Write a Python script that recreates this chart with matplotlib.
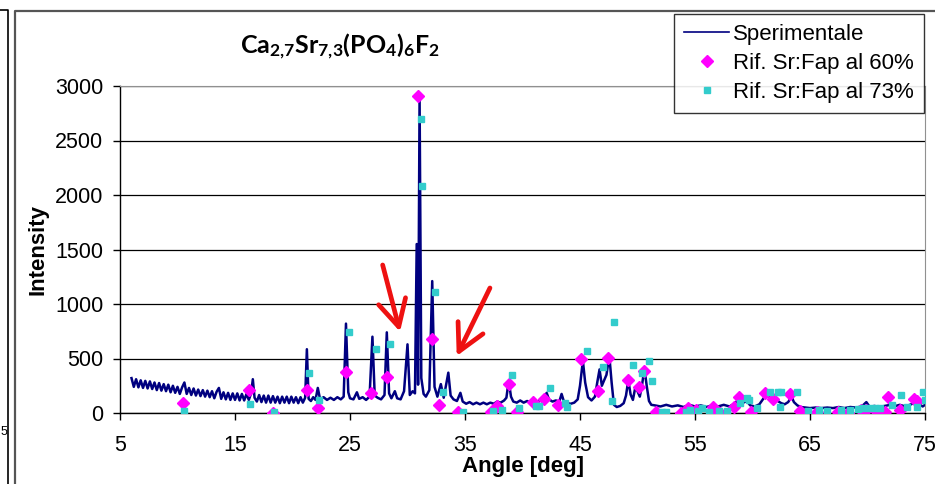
import matplotlib
matplotlib.use("Agg")
import matplotlib.pyplot as plt
from matplotlib.lines import Line2D

# XRD scan (2theta in deg, counts)
EXP_ANGLE = [
    6.0, 6.2, 6.4, 6.6, 6.8, 7.0, 7.2, 7.4, 7.6, 7.8,
    8.0, 8.2, 8.4, 8.6, 8.8, 9.0, 9.2, 9.4, 9.6, 9.8,
    10.0, 10.2, 10.4, 10.6, 10.8, 11.0, 11.2, 11.4, 11.6, 11.8,
    12.0, 12.2, 12.4, 12.6, 12.8, 13.0, 13.2, 13.4, 13.6, 13.8,
    14.0, 14.2, 14.4, 14.6, 14.8, 15.0, 15.2, 15.4, 15.6, 15.8,
    16.0, 16.2, 16.4, 16.55, 16.7, 16.9, 17.1, 17.3, 17.5, 17.7,
    17.9, 18.1, 18.3, 18.5, 18.7, 18.9, 19.1, 19.3, 19.5, 19.7,
    19.9, 20.1, 20.3, 20.5, 20.7, 20.9, 21.1, 21.25, 21.4, 21.6,
    21.8, 22.0, 22.2, 22.4, 22.7, 23.0, 23.3, 23.6, 23.9, 24.2,
    24.45, 24.65, 24.85, 25.0, 25.3, 25.6, 25.8, 26.1, 26.4, 26.7,
    26.95, 27.15, 27.4, 27.7, 28.0, 28.2, 28.4, 28.6, 28.9, 29.1,
    29.4, 29.7, 30.0, 30.2, 30.45, 30.65, 30.8, 30.92, 31.05, 31.2,
    31.4, 31.6, 31.9, 32.15, 32.35, 32.6, 32.9, 33.15, 33.55, 33.75,
    34.0, 34.3, 34.6, 34.8, 35.1, 35.4, 35.7, 36.0, 36.3, 36.6,
    36.9, 37.2, 37.5, 37.8, 38.1, 38.4, 38.6, 38.8, 39.0, 39.2,
    39.5, 39.8, 40.1, 40.4, 40.7, 41.0, 41.3, 41.6, 41.9, 42.1,
    42.3, 42.6, 42.9, 43.2, 43.4, 43.6, 43.9, 44.2, 44.5, 44.8,
    45.0, 45.25, 45.45, 45.7, 46.0, 46.3, 46.5, 46.7, 46.9, 47.1,
    47.3, 47.55, 47.75, 47.95, 48.2, 48.5, 48.8, 49.0, 49.2, 49.4,
    49.6, 49.8, 50.0, 50.2, 50.4, 50.6, 50.8, 51.0, 51.2, 51.5,
    52.0, 52.5, 53.0, 53.5, 54.0, 54.5, 55.0, 55.5, 56.0, 56.5,
    57.0, 57.5, 58.0, 58.5, 58.8, 59.1, 59.5, 59.8, 60.2, 60.6,
    61.0, 61.3, 61.6, 61.9, 62.2, 62.5, 62.8, 63.1, 63.4, 63.6,
    63.9, 64.2, 64.6, 65.0, 65.5, 66.0, 66.5, 67.0, 67.5, 68.0,
    68.5, 69.0, 69.5, 69.9, 70.2, 70.6, 71.0, 71.5, 72.0, 72.3,
    72.8, 73.3, 73.8, 74.2, 74.5, 74.8, 75.0,
]
EXP_COUNTS = [
    320, 240, 310, 235, 300, 230, 295, 225, 290, 220,
    280, 210, 275, 205, 265, 200, 260, 190, 250, 185,
    240, 175, 235, 280, 175, 230, 165, 225, 160, 215,
    155, 210, 150, 205, 145, 200, 135, 195, 230, 130,
    190, 125, 185, 120, 180, 120, 180, 115, 175, 115,
    175, 120, 180, 310, 140, 105, 165, 100, 160, 95,
    160, 95, 155, 95, 150, 90, 150, 95, 150, 90,
    150, 95, 145, 90, 145, 95, 140, 585, 130, 110,
    145, 120, 230, 125, 145, 120, 140, 120, 145, 125,
    150, 820, 190, 135, 125, 190, 130, 145, 120, 150,
    700, 160, 140, 125, 165, 740, 180, 135, 200, 135,
    125, 200, 630, 165, 200, 180, 1550, 260, 2910, 320,
    175, 150, 210, 1210, 240, 150, 265, 140, 370, 160,
    125, 110, 185, 105, 85, 100, 80, 95, 80, 95,
    80, 95, 85, 105, 95, 115, 140, 295, 150, 105,
    95, 115, 95, 110, 95, 115, 100, 125, 135, 185,
    125, 105, 115, 105, 175, 105, 90, 85, 95, 125,
    250, 480, 280, 145, 115, 150, 280, 400, 250, 300,
    350, 525, 280, 75, 55, 65, 90, 160, 300, 170,
    120, 230, 200, 150, 260, 410, 250, 110, 75, 70,
    60, 75, 60, 70, 55, 75, 60, 70, 55, 70,
    60, 75, 60, 90, 130, 90, 110, 70, 60, 80,
    140, 175, 130, 150, 110, 90, 80, 100, 150, 100,
    70, 55, 50, 45, 50, 45, 50, 45, 55, 45,
    55, 50, 60, 100, 55, 65, 55, 65, 75, 60,
    75, 60, 80, 105, 80, 60, 75,
]
assert len(EXP_ANGLE) == len(EXP_COUNTS)

# reference pattern Sr:Fap 60 %
REF60_ANGLE = [10.5, 16.2, 18.3, 21.3, 22.2, 24.65, 26.8, 28.2, 30.9, 32.15,
               32.7, 34.4, 37.3, 37.8, 38.8, 39.5, 40.9, 41.9, 43.1, 45.1,
               46.6, 47.4, 49.2, 50.1, 50.6, 51.6, 53.8, 54.4, 55.1, 56.6,
               57.2, 58.4, 58.85, 59.9, 61.1, 61.8, 63.3, 64.1, 65.6, 67.4,
               68.3, 69.4, 69.9, 70.8, 71.5, 71.8, 72.8, 74.0, 74.3]
REF60_COUNTS = [95, 215, 3, 210, 45, 380, 185, 330, 2910, 675,
                75, 8, 10, 60, 270, 12, 100, 125, 75, 500,
                205, 505, 300, 240, 385, 12, 3, 50, 28, 58,
                3, 58, 150, 12, 180, 125, 170, 15, 12, 5,
                0, 28, 28, 12, 12, 150, 28, 125, 110]

# reference pattern Sr:Fap 73 %
REF73_ANGLE = [10.6, 16.3, 18.4, 21.4, 22.3, 24.9, 27.3, 28.5, 31.15, 31.3,
               32.4, 33.1, 34.8, 37.4, 38.2, 39.1, 39.7, 41.2, 41.4, 42.4,
               43.7, 43.9, 45.6, 47.0, 47.8, 47.95, 49.6, 50.4, 51.0, 51.3,
               52.1, 52.5, 54.2, 54.6, 55.3, 55.6, 56.2, 57.1, 57.75, 58.9,
               59.5, 59.7, 60.35, 61.5, 62.2, 62.4, 62.5, 63.9, 64.85, 65.75,
               66.5, 67.7, 68.5, 69.2, 69.6, 70.1, 70.65, 71.1, 72.1, 72.9,
               73.4, 74.3, 74.8, 75.0]
REF73_COUNTS = [18, 83, 5, 370, 119, 746, 584, 633, 2700, 2086,
                1107, 190, 12, 15, 30, 348, 49, 64, 64, 226,
                95, 58, 572, 425, 113, 838, 440, 370, 477, 296,
                12, 12, 9, 28, 15, 43, 12, 20, 21, 95,
                141, 119, 43, 189, 196, 52, 189, 196, 18, 28,
                20, 28, 28, 34, 49, 49, 49, 49, 73, 165,
                52, 52, 196, 119]

X_TICKS = [5, 15, 25, 35, 45, 55, 65, 75]
Y_TICKS = [0, 500, 1000, 1500, 2000, 2500, 3000]

NAVY, MAGENTA, TURQ, RED = "#000080", "#FF00FF", "#33CCCC", "#EE1111"
W, H = 935, 484

plt.rcParams["font.family"] = ["Liberation Sans", "DejaVu Sans"]
plt.rcParams["mathtext.fontset"] = "custom"
plt.rcParams["mathtext.rm"] = "Lato:bold"
plt.rcParams["mathtext.it"] = "Lato:bold"
plt.rcParams["mathtext.bf"] = "Lato:bold"

fig = plt.figure(figsize=(W / 100, H / 100), dpi=100)
ax = fig.add_axes([120 / W, 1 - 413 / H, 805 / W, 327 / H])

ax.plot(EXP_ANGLE, EXP_COUNTS, color=NAVY, lw=1.8, zorder=3)
ax.plot(REF60_ANGLE, REF60_COUNTS, ls="none", marker="D", ms=6.5,
        color=MAGENTA, mec=MAGENTA, zorder=4)
ax.plot(REF73_ANGLE, REF73_COUNTS, ls="none", marker="s", ms=4.5,
        color=TURQ, mec=TURQ, zorder=5)

ax.set_xlim(5, 75)
ax.set_ylim(0, 3000)
ax.set_xticks(X_TICKS)
ax.set_yticks(Y_TICKS)
ax.tick_params(direction="out", length=5, width=1, labelsize=15.5,
               colors="black")
ax.tick_params(axis="x", pad=11)
ax.tick_params(axis="y", pad=7)
ax.grid(axis="y", color="black", lw=0.9)
ax.set_axisbelow(True)
for s in ("top", "right"):
    ax.spines[s].set_color("#909090")
for s in ("left", "bottom"):
    ax.spines[s].set_color("black")
    ax.spines[s].set_linewidth(1.0)

ax.set_xlabel("Angle [deg]", fontsize=16, fontweight="bold", labelpad=0)
ax.set_ylabel("Intensity", fontsize=16, fontweight="bold", labelpad=5)

# the two red arrows
arrow = dict(arrowstyle="->,head_length=0.95,head_width=0.5", color=RED,
             lw=3.4, mutation_scale=20, shrinkA=0, shrinkB=0)
ax.annotate("", xy=(29.35, 746), xytext=(27.84, 1358), arrowprops=arrow,
            zorder=6)
ax.annotate("", xy=(34.28, 523), xytext=(37.17, 1147), arrowprops=arrow,
            zorder=6)

fig.text(340 / W, 1 - 54 / H, r"Ca$_{2{,}7}$Sr$_{7{,}3}$(PO$_4$)$_6$F$_2$",
         ha="center", va="baseline", fontsize=18, fontweight="bold",
         family="Lato")

handles = [
    Line2D([], [], color=NAVY, lw=1.2),
    Line2D([], [], ls="none", marker="D", ms=6.5, color=MAGENTA),
    Line2D([], [], ls="none", marker="s", ms=4.5, color=TURQ),
]
leg = fig.legend(handles, ["Sperimentale", "Rif. Sr:Fap al 60%",
                           "Rif. Sr:Fap al 73%"],
                 loc="upper right", bbox_to_anchor=(924 / W, 1 - 14 / H),
                 fontsize=16, frameon=True, fancybox=False, borderpad=0.45,
                 handlelength=2.0, handletextpad=0.2, labelspacing=0.35,
                 borderaxespad=0)
leg.get_frame().set_edgecolor("black")
leg.get_frame().set_linewidth(1.0)

# chart frame and the edge of the neighbouring panel
def px_line(xs, ys, **kw):
    fig.add_artist(Line2D([x / W for x in xs], [1 - y / H for y in ys],
                          transform=fig.transFigure, **kw))

px_line([15, 15, W], [H, 11, 11], color="#555555", lw=1.6)
px_line([0, 8, 8], [10, 10, H], color="black", lw=1.2)
fig.text(0.5 / W, 1 - 432 / H, "5", ha="left", va="center", fontsize=9)

fig.savefig("out.png", dpi=100, facecolor="white")
